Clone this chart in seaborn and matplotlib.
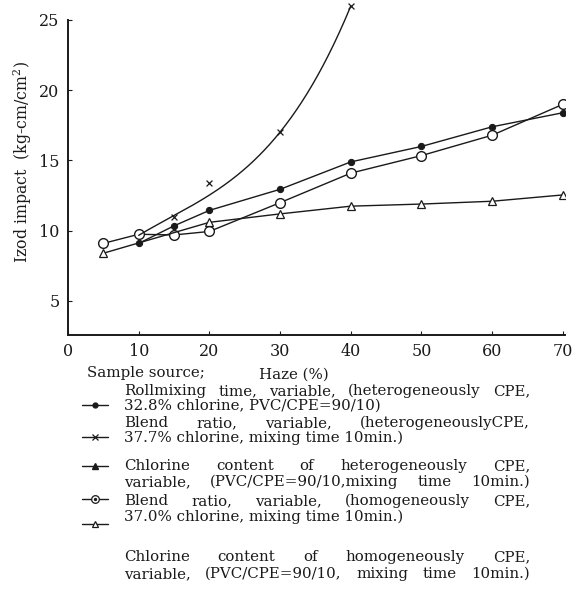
import numpy as np
import matplotlib
matplotlib.use("Agg")
import matplotlib.pyplot as plt
from matplotlib.lines import Line2D
import seaborn as sns

# Izod impact (kg-cm/cm2) against haze (%) for each sample source
roll_haze = [10, 15, 20, 30, 40, 50, 60, 70]
roll_izod = [9.1, 10.35, 11.45, 12.95, 14.9, 16.0, 17.4, 18.4]

blend_het_haze = [10, 15, 20, 30, 40]
blend_het_izod = [9.7, 11.0, 13.4, 17.0, 26.0]

cl_het_haze = [10, 15]
cl_het_izod = [9.75, 9.7]

blend_hom_haze = [5, 10, 15, 20, 30, 40, 50, 60, 70]
blend_hom_izod = [9.1, 9.75, 9.7, 9.95, 12.0, 14.1, 15.35, 16.8, 19.0]

cl_hom_haze = [5, 20, 30, 40, 50, 60, 70]
cl_hom_izod = [8.4, 10.6, 11.2, 11.75, 11.9, 12.1, 12.55]

x_ticks = [0, 10, 20, 30, 40, 50, 60, 70]
y_ticks = [5, 10, 15, 20, 25]

legend_lines = [
    ("Rollmixing time, variable, (heterogeneously CPE,", True),
    ("32.8% chlorine, PVC/CPE=90/10)", False),
    ("Blend ratio,   variable,   (heterogeneouslyCPE,", True),
    ("37.7% chlorine, mixing time 10min.)", False),
    ("Chlorine content of heterogeneously CPE,", True),
    ("variable, (PVC/CPE=90/10,mixing time 10min.)", True),
    ("Blend ratio, variable, (homogeneously CPE,", True),
    ("37.0% chlorine, mixing time 10min.)", False),
    ("Chlorine content of homogeneously CPE,", True),
    ("variable, (PVC/CPE=90/10, mixing time 10min.)", True),
]

sns.set_theme(style="ticks")
plt.rcParams["font.family"] = ["DejaVu Serif"]
plt.rcParams["mathtext.fontset"] = "dejavuserif"

W, H = 577, 608
fig = plt.figure(figsize=(W / 100, H / 100), dpi=100)
ax = fig.add_axes([68 / W, 1 - 335 / H, (565 - 68) / W, (335 - 20) / H])

ink = "#1a1a1a"
lw = 1.0
FS = 10.8

# straight-segment series
sns.lineplot(x=roll_haze, y=roll_izod, ax=ax, color=ink, lw=lw, marker="o",
             markersize=4.5, markerfacecolor=ink, markeredgecolor=ink)
sns.lineplot(x=blend_hom_haze, y=blend_hom_izod, ax=ax, color=ink, lw=lw, marker="o",
             markersize=7, markerfacecolor="white", markeredgecolor=ink, markeredgewidth=1.0)
sns.scatterplot(x=blend_hom_haze, y=blend_hom_izod, ax=ax, color=ink, s=3, linewidth=0)
sns.lineplot(x=cl_hom_haze, y=cl_hom_izod, ax=ax, color=ink, lw=lw, marker="^",
             markersize=6, markerfacecolor="white", markeredgecolor=ink, markeredgewidth=0.9)
sns.scatterplot(x=cl_het_haze, y=cl_het_izod, ax=ax, color=ink, marker="^", s=10, linewidth=0)

# weighted cubic trend curve for the blend-ratio (heterogeneous) points
fit_w = [10, 10, 3, 10, 10]
coef = np.polyfit(blend_het_haze, blend_het_izod, 3, w=fit_w)
fx = np.linspace(blend_het_haze[0], blend_het_haze[-1], 200)
ax.plot(fx, np.polyval(coef, fx), color=ink, lw=lw, clip_on=False)
sns.scatterplot(x=blend_het_haze, y=blend_het_izod, ax=ax, color=ink, marker="x",
                s=18, linewidth=0.9, clip_on=False)

ax.set_xlim(0, 70.3)
ax.set_ylim(2.58, 25)
ax.set_xticks(x_ticks)
ax.set_yticks(y_ticks)
ax.set_xticklabels([str(t) for t in x_ticks])
ax.set_yticklabels([str(t) for t in y_ticks])
ax.tick_params(direction="in", length=3, width=0.8, labelsize=11.5, colors=ink, pad=6)
sns.despine(ax=ax)
for s in ("left", "bottom"):
    ax.spines[s].set_linewidth(1.4)
    ax.spines[s].set_color(ink)
ax.set_xlabel("")
ax.set_ylabel("")
ax.grid(False)

fig.text(23 / W, 1 - 162 / H, "Izod impact  (kg-cm/cm$^2$)", rotation=90,
         ha="center", va="center", fontsize=11.3, color=ink)
fig.text(87 / W, 1 - 373 / H, "Sample source;", ha="left", va="center", fontsize=FS, color=ink)
fig.text(294 / W, 1 - 375 / H, "Haze (%)", ha="center", va="center", fontsize=FS, color=ink)

# legend symbols
sym = [
    (405, dict(marker="o", ms=3.5, mfc=ink, mec=ink)),
    (437, dict(marker="x", ms=4, mec=ink, mew=0.9)),
    (466, dict(marker="^", ms=4, mfc=ink, mec=ink)),
    (499, dict(marker="o", ms=5.5, mfc="white", mec=ink, mew=0.9)),
    (524, dict(marker="^", ms=5, mfc="white", mec=ink, mew=0.9)),
]
for yy, kw in sym:
    fy = 1 - yy / H
    fig.add_artist(Line2D([82 / W, 108 / W], [fy, fy], color=ink, lw=1.0, transform=fig.transFigure))
    fig.add_artist(Line2D([95 / W], [fy], color=ink, ls="none", transform=fig.transFigure, **kw))
fig.add_artist(Line2D([95 / W], [1 - 499 / H], color=ink, ls="none", marker="o", ms=1.4,
                      mfc=ink, mec=ink, transform=fig.transFigure))

# legend text, justified between x0 and x1
line_y = [391, 406, 423, 438, 466, 482, 501, 517, 557, 574]
x0, x1 = 124, 530
renderer = fig.canvas.get_renderer()
for (txt, just), yy in zip(legend_lines, line_y):
    fy = 1 - yy / H
    if not just:
        fig.text(x0 / W, fy, txt, ha="left", va="center", fontsize=FS, color=ink)
        continue
    words = txt.split()
    arts = [fig.text(0, fy, w, ha="left", va="center", fontsize=FS, color=ink) for w in words]
    widths = [a.get_window_extent(renderer).width for a in arts]
    gap = (x1 - x0 - sum(widths)) / max(len(words) - 1, 1)
    xpos = x0
    for a, wdt in zip(arts, widths):
        a.set_x(xpos / W)
        xpos += wdt + gap

fig.savefig("out.png", dpi=100, facecolor="white")
